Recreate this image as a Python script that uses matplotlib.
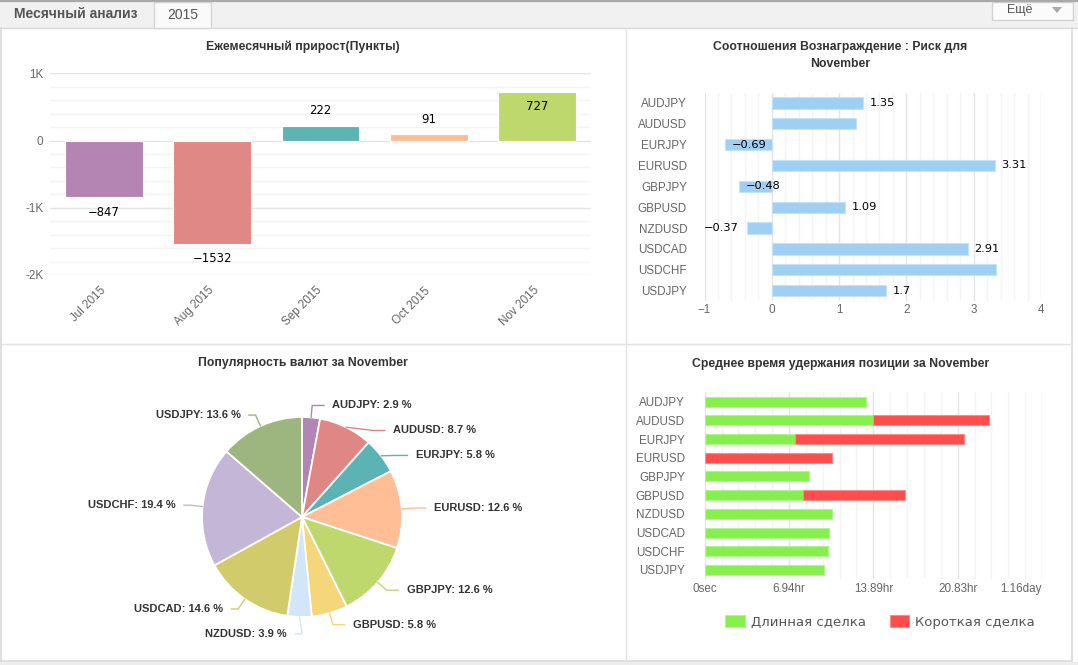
import matplotlib
matplotlib.use("Agg")
import matplotlib.pyplot as plt
from matplotlib.patches import Rectangle, Polygon
from matplotlib.ticker import MultipleLocator, FixedLocator
import numpy as np

plt.rcParams["font.family"] = ["Liberation Sans", "DejaVu Sans"]

W, H = 1078, 665

# ── данные ──
MONTHS = ["Jul 2015", "Aug 2015", "Sep 2015", "Oct 2015", "Nov 2015"]
MONTH_PIPS = [-847, -1532, 222, 91, 727]
MONTH_COLORS = ["#b485b3", "#e08885", "#5db4b3", "#ffbc93", "#bfd86d"]

PAIRS = ["AUDJPY", "AUDUSD", "EURJPY", "EURUSD", "GBPJPY",
         "GBPUSD", "NZDUSD", "USDCAD", "USDCHF", "USDJPY"]
RR_VALUES = [1.35, 1.25, -0.69, 3.31, -0.48, 1.09, -0.37, 2.91, 3.33, 1.7]
RR_LABELS = ["1.35", "", "\u22120.69", "3.31", "\u22120.48", "1.09",
             "\u22120.37", "2.91", "", "1.7"]

POP_SHARE = [2.9, 8.7, 5.8, 12.6, 12.6, 5.8, 3.9, 14.6, 19.4, 13.6]
POP_COLORS = ["#b385b5", "#e08785", "#5bb4b3", "#ffbe96", "#bfd86e",
              "#f5d67a", "#d2e6f8", "#d1cb6c", "#c4b6d6", "#9db680"]

# среднее время удержания, секунды
HOLD_LONG = [47700, 50000, 26700, 0, 31000, 29200, 37700, 36900, 36500, 35500]
HOLD_SHORT = [0, 34300, 50200, 37700, 0, 30300, 0, 0, 0, 0]
HOLD_TICKS = [0, 25000, 50000, 75000, 100000]
HOLD_TICK_LABELS = ["0sec", "6.94hr", "13.89hr", "20.83hr", "1.16day"]

TITLE_KW = dict(fontsize=8.8, fontweight="bold", color="#333333",
                ha="center", va="center")
TICK_COLOR = "#666666"


fig = plt.figure(figsize=(W / 100, H / 100), dpi=100)
fig.patch.set_facecolor("white")


def px_axes(x0, y0, x1, y1, **kw):
    return fig.add_axes([x0 / W, 1 - y1 / H, (x1 - x0) / W, (y1 - y0) / H], **kw)


def fig_text(x, y, s, **kw):
    fig.text(x / W, 1 - y / H, s, **kw)


# ── рамка / вкладки ──
bg = px_axes(0, 0, W, H, zorder=-10)
bg.set_xlim(0, W)
bg.set_ylim(H, 0)
bg.axis("off")
bg.add_patch(Rectangle((0, 0), W, 28, fc="#f1f1f1", ec="none"))
bg.plot([0, W], [0.8, 0.8], color="#a9a9a9", lw=1.6)
bg.plot([0, W], [27.5, 27.5], color="#d8d8d8", lw=1)
bg.add_patch(Rectangle((154, 2), 57, 26, fc="#fafafa", ec="#d6d6d6", lw=1))
bg.add_patch(Rectangle((154.5, 26), 56, 3, fc="#fafafa", ec="none"))
bg.add_patch(Rectangle((992, 1.5), 81, 18.5, fc="#fbfbfb", ec="#d3d3d3", lw=1))
bg.add_patch(Polygon([[1052, 7], [1062, 7], [1057, 13]], closed=True,
                     fc="#aaaaaa", ec="none"))
bg.text(14, 14.5, "Месячный анализ", fontsize=10, fontweight="bold",
        color="#555555", va="center", ha="left")
bg.text(183, 15, "2015", fontsize=10, color="#555555", va="center",
        ha="center")
bg.text(1020, 10.5, "Ещё", fontsize=9, color="#555555", va="center",
        ha="center")
# границы
bg.plot([0.6, 0.6], [28, 661], color="#d9d9d9", lw=1.2)
bg.plot([1072, 1072], [28, 661], color="#d9d9d9", lw=1.2)
bg.plot([0, 1072], [661, 661], color="#d9d9d9", lw=1.2)
bg.add_patch(Rectangle((0, 662), W, 4, fc="#ededed", ec="none"))
bg.plot([626, 626], [28, 661], color="#e3e3e3", lw=1)
bg.plot([0, 1072], [344, 344], color="#e3e3e3", lw=1)


def style_axes(ax):
    ax.set_facecolor("none")
    for sp in ax.spines.values():
        sp.set_visible(False)
    ax.tick_params(which="both", length=0, colors=TICK_COLOR, labelsize=8.4)


# ── 1. Ежемесячный прирост ──
ax1 = px_axes(50, 73.3, 591, 275)
style_axes(ax1)
x = np.arange(len(MONTHS))
ax1.bar(x, MONTH_PIPS, width=0.72, color=MONTH_COLORS, edgecolor="white",
        linewidth=0.8, zorder=3)
ax1.set_xlim(-0.5, len(MONTHS) - 0.5)
ax1.set_ylim(-2000, 1000)
ax1.set_yticks([-2000, -1000, 0, 1000])
ax1.set_yticklabels(["-2K", "-1K", "0", "1K"])
ax1.yaxis.set_minor_locator(MultipleLocator(200))
ax1.grid(True, axis="y", which="major", color="#e4e4e4", lw=1, zorder=0)
ax1.grid(True, axis="y", which="minor", color="#f4f4f4", lw=1, zorder=0)
ax1.tick_params(axis="y", pad=4.7)
ax1.set_xticks(x)
ax1.set_xticklabels(MONTHS, rotation=45, ha="right", va="center",
                    rotation_mode="anchor")
ax1.tick_params(axis="x", pad=10)
px_per_unit = (275 - 73.3) / 3000
off = 15 / px_per_unit
for xi, v in zip(x, MONTH_PIPS):
    if v >= 0:
        y = v + off if v + off + 7 / px_per_unit <= 1000 else v - off
    else:
        y = v - off
    ax1.text(xi, y, str(v).replace("-", "\u2212"), ha="center", va="center",
             fontsize=8.4, color="black", family="DejaVu Sans", zorder=4)
fig_text(302.5, 47, "Ежемесячный прирост(Пункты)", **TITLE_KW)

# ── 2. Вознаграждение : Риск ──
ax2 = px_axes(704.5, 92.5, 1041, 301)
style_axes(ax2)
yy = np.arange(len(PAIRS))
ax2.barh(yy, RR_VALUES, height=0.54, color="#9fcff3", edgecolor="#c4e2f8",
         linewidth=0.8, zorder=3)
ax2.set_ylim(len(PAIRS) - 0.5, -0.5)
ax2.set_xlim(-1, 4)
ax2.set_yticks(yy)
ax2.set_yticklabels(PAIRS)
ax2.tick_params(axis="y", pad=12.6)
ax2.tick_params(axis="x", pad=2)
ax2.xaxis.set_major_locator(MultipleLocator(1))
ax2.xaxis.set_minor_locator(MultipleLocator(0.2))
ax2.grid(True, axis="x", which="major", color="#e4e4e4", lw=1, zorder=0)
ax2.grid(True, axis="x", which="minor", color="#f4f4f4", lw=1, zorder=0)
rr_px = (1041 - 704.5) / 5
renderer = fig.canvas.get_renderer()
for yi, v, lab in zip(yy, RR_VALUES, RR_LABELS):
    if not lab:
        continue
    if v >= 0:
        ax2.text(v + 7 / rr_px, yi, lab, ha="left", va="center", fontsize=8.2,
                 color="black", family="DejaVu Sans", zorder=4)
    else:
        t = ax2.text(v - 8 / rr_px, yi, lab, ha="right", va="center",
                     fontsize=8.2, color="black", family="DejaVu Sans", zorder=4)
        w = t.get_window_extent(renderer).width / rr_px
        if v - 8 / rr_px - w < -1 - 3 / rr_px:
            t.set_x(v + 6 / rr_px)
            t.set_ha("left")
fig_text(840.5, 47, "Соотношения Вознаграждение : Риск для", **TITLE_KW)
fig_text(840.5, 64, "November", **TITLE_KW)

# ── 3. Популярность валют ──
ax3 = px_axes(0, 372, 626, 660)
ax3.pie(POP_SHARE, colors=POP_COLORS, startangle=90, counterclock=False,
        radius=1, wedgeprops=dict(edgecolor="white", linewidth=1.3))
ax3.set_aspect("auto")
ax3.set_xlim(-3.02, 3.24)
ax3.set_ylim(-1.43, 1.45)
ax3.axis("off")

share = np.array(POP_SHARE)
mid = 2 * np.pi * (np.cumsum(share) - share / 2) / share.sum()
R = 1.12
labels = []
for name, s, th, c in zip(PAIRS, POP_SHARE, mid, POP_COLORS):
    side = 1 if np.sin(th) >= 0 else -1
    labels.append(dict(name=name, s=s, th=th, c=c, side=side, y=R * np.cos(th)))
for side in (1, -1):
    grp = sorted([l for l in labels if l["side"] == side], key=lambda l: -l["y"])
    for prev, cur in zip(grp, grp[1:]):
        if cur["y"] > prev["y"] - 0.25:
            cur["y"] = prev["y"] - 0.25
for l in labels:
    ex = l["side"] * np.sqrt(max(R ** 2 - l["y"] ** 2, 0))
    sx, sy = np.sin(l["th"]), np.cos(l["th"])
    gap = 0.2 if l["side"] > 0 else 0.15
    ax3.plot([sx, ex, ex + l["side"] * (gap - 0.08)], [sy, l["y"], l["y"]],
             color=l["c"], lw=1, solid_capstyle="round")
    ax3.text(ex + l["side"] * gap, l["y"], f"{l['name']}: {l['s']} %",
             ha="left" if l["side"] > 0 else "right", va="center",
             fontsize=8, fontweight="bold", color="#333333")
fig_text(303, 363, "Популярность валют за November", **TITLE_KW)

# ── 4. Среднее время удержания ──
ax4 = px_axes(704.7, 392.3, 1042, 579.3)
style_axes(ax4)
yy = np.arange(len(PAIRS))
long_v = np.array(HOLD_LONG)
short_v = np.array(HOLD_SHORT)
m_long = long_v > 0
m_short = short_v > 0
ax4.barh(yy[m_long], long_v[m_long], height=0.535, color="#86ef4e",
         edgecolor="#b0f58e", linewidth=0.8, zorder=3, label="Длинная сделка")
ax4.barh(yy[m_short], short_v[m_short], left=long_v[m_short], height=0.535,
         color="#ff4c4c", edgecolor="#ff8c8c", linewidth=0.8, zorder=3,
         label="Короткая сделка")
ax4.set_ylim(len(PAIRS) - 0.5, -0.5)
ax4.set_xlim(HOLD_TICKS[0], HOLD_TICKS[-1])
ax4.set_yticks(yy)
ax4.set_yticklabels(PAIRS)
ax4.tick_params(axis="y", pad=14.2)
ax4.tick_params(axis="x", pad=3)
ax4.xaxis.set_major_locator(FixedLocator(HOLD_TICKS))
ax4.set_xticklabels(HOLD_TICK_LABELS)
ax4.get_xticklabels()[-1].set_ha("right")
ax4.xaxis.set_minor_locator(MultipleLocator(5000))
ax4.grid(True, axis="x", which="major", color="#e4e4e4", lw=1, zorder=0)
ax4.grid(True, axis="x", which="minor", color="#f4f4f4", lw=1, zorder=0)
fig_text(841, 364, "Среднее время удержания позиции за November", **TITLE_KW)
handles, labs = ax4.get_legend_handles_labels()
fig.legend(handles, labs, loc="center", bbox_to_anchor=(880 / W, 1 - 622 / H),
           ncol=2, frameon=False, labelcolor="#555555",
           handlelength=1.5, handleheight=1.05, handletextpad=0.45,
           columnspacing=1.8, prop=dict(family="DejaVu Sans", size=9.5))

fig.savefig("out.png", dpi=100)
